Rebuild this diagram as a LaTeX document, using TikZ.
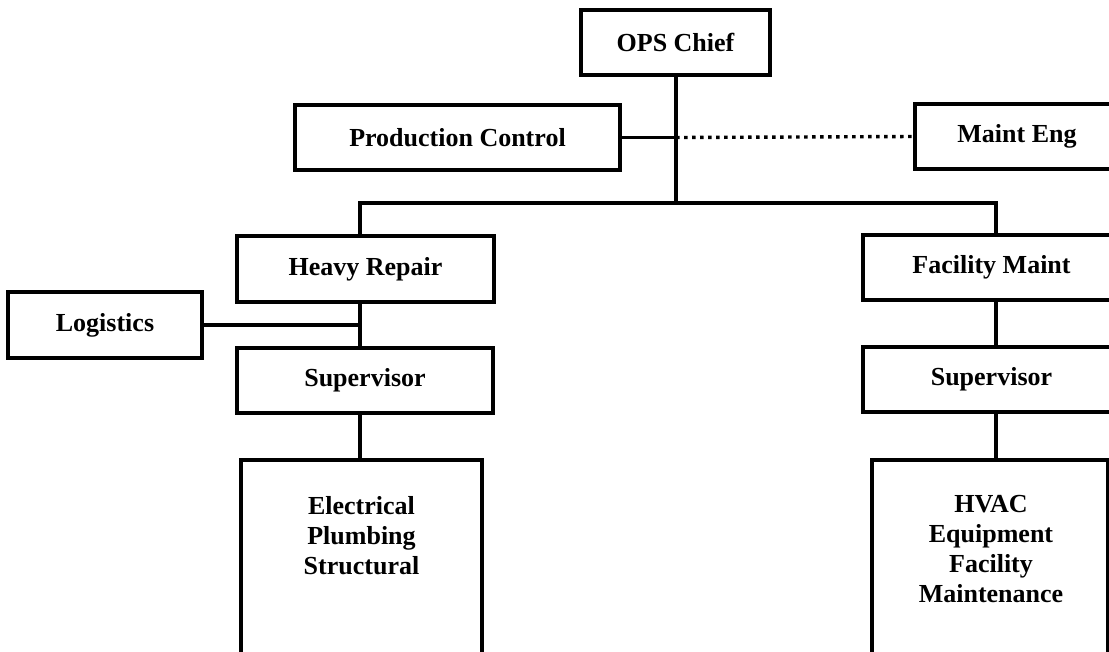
\documentclass[tikz,border=0pt]{standalone}
\usepackage{fontspec}
\setmainfont{Liberation Serif}
\begin{document}
\begin{tikzpicture}[x=1pt,y=-1pt,
  box/.style={draw,line width=3.2pt,rectangle,inner sep=0pt,minimum height=65pt,
    font=\fontsize{26}{30}\selectfont\bfseries,align=center},
  tall/.style={draw,line width=3.2pt,rectangle,inner sep=0pt},
  body/.style={font=\fontsize{26}{30}\selectfont\bfseries,align=center,anchor=north,inner sep=0pt},
  link/.style={line width=3.4pt},
  dotlink/.style={line width=3.4pt,dash pattern=on 3.5pt off 4.5pt}]
\useasboundingbox (0,0) rectangle (1109,651);
% boxes
\node[box,minimum width=189pt] (ops) at (675.5,42.5) {OPS Chief};
\node[box,minimum width=325pt] (prod) at (457.5,137.5) {Production Control};
\node[box,minimum width=204pt] (meng) at (1017,136.5) {Maint Eng};
\node[box,minimum width=257pt,minimum height=66pt] (heavy) at (365.5,269) {Heavy Repair};
\node[box,minimum width=194pt,minimum height=66pt] (log) at (105,325) {Logistics};
\node[box,minimum width=256pt] (supL) at (365,380.5) {Supervisor};
\node[box,minimum width=257pt] (fac) at (991.5,267.5) {Facility Maint};
\node[box,minimum width=257pt] (supR) at (991.5,379.5) {Supervisor};
\node[tall,minimum width=241pt,minimum height=220pt] (elec) at (361.5,570) {};
\node[tall,minimum width=236pt,minimum height=220pt] (hvac) at (990,570) {};
\node[body] (elect) at (361.5,496) {Electrical\\Plumbing\\Structural};
\node[body] (hvact) at (991,495) {HVAC\\Equipment\\Facility\\Maintenance};
% junction points
\coordinate (jC) at (676,203);
\coordinate (jL) at (360,203);
\coordinate (jR) at (996,203);
% connectors
\draw[link] (ops.south -| jC) -- (jC);
\draw[link] (jL |- heavy.north) -- (jL) -- (jR) -- (jR |- fac.north);
\draw[link] (prod.east) -- (prod.east -| jC);
\draw[dotlink] (prod.east -| jC) -- (meng.west);
\draw[link] (jL |- heavy.south) -- (jL |- supL.north);
\draw[link] (log.east) -- (log.east -| jL);
\draw[link] (jL |- supL.south) -- (jL |- elec.north);
\draw[link] (jR |- fac.south) -- (jR |- supR.north);
\draw[link] (jR |- supR.south) -- (jR |- hvac.north);
\end{tikzpicture}
\end{document}
